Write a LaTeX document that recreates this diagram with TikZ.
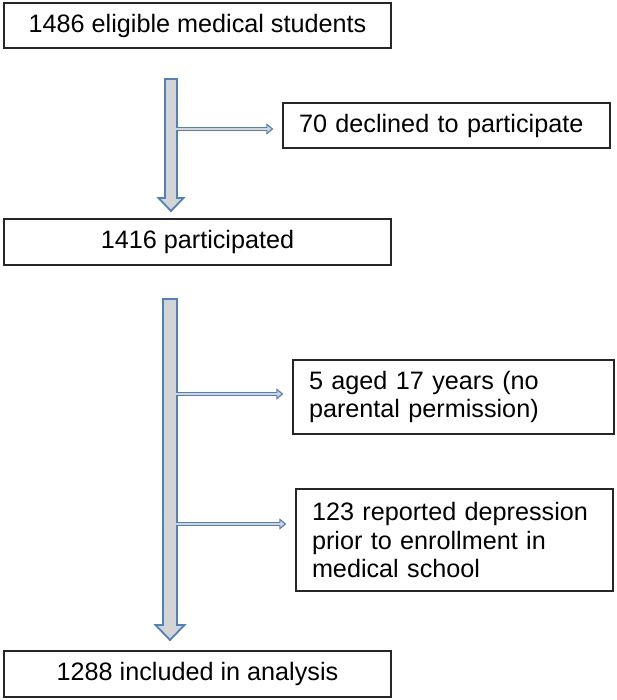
\documentclass[tikz,border=0pt]{standalone}
\usepackage{fontspec}
\setmainfont{Liberation Sans}
\usetikzlibrary{arrows.meta}
\definecolor{flowblue}{HTML}{4F81BD}
\definecolor{shaftgrey}{HTML}{D4D4D4}
\tikzset{
  box/.style={draw=black!85, line width=1.2pt, minimum height=45pt, inner xsep=16pt,
              inner ysep=0pt, font=\fontsize{25.2}{28.6}\selectfont},
  wide/.style={box, minimum width=387pt, align=center},
  side/.style={box, align=left},
  bigarrow/.style={draw=flowblue, line width=1.8pt, fill=shaftgrey, line join=miter},
  branch/.style={draw=flowblue, line width=4.2pt, -{Triangle[length=7pt, width=11pt]}, shorten >=9pt,
                 postaction={draw=shaftgrey, line width=1.8pt, -{Triangle[length=4pt, width=6pt]},
                             shorten >=11pt}},
}
\begin{document}
\begin{tikzpicture}[x=1pt, y=-1pt]
        \useasboundingbox (0,0) rectangle (617,700);
        \node[wide] (elig) at (197.5,25.5) {1486 eligible medical students};
        \node[side, text width=295pt] (decl) at (446.5,125.5) {70 declined to participate};
        \node[wide, minimum height=46pt] (part) at (197.5,242) {1416 participated};
        \node[side, text width=289pt, minimum height=74pt] (aged) at (453.5,397) {5 aged 17 years (no\\parental permission)};
        \node[side, text width=285pt, minimum height=102pt] (depr) at (454.5,540) {123 reported depression\\prior to enrollment in\\medical school};
        \node[wide, minimum height=46pt] (incl) at (197.5,674) {1288 included in analysis};
        % block arrows down the left
        \draw[bigarrow] (165,79) -- (177,79) -- (177,198) -- (183.5,198) -- (171,211) -- (158.5,198) -- (165,198) -- cycle;
        \draw[bigarrow] (163,299) -- (177,299) -- (177,625) -- (184.5,625) -- (170,640) -- (155.5,625) -- (163,625) -- cycle;
        % exclusions
        \coordinate (b1) at (176,129);
        \coordinate (b2) at (176,394);
        \coordinate (b3) at (176,524);
        \draw[branch] (b1) -- (b1 -| decl.west);
        \draw[branch] (b2) -- (b2 -| aged.west);
        \draw[branch] (b3) -- (b3 -| depr.west);
      \end{tikzpicture}
\end{document}
